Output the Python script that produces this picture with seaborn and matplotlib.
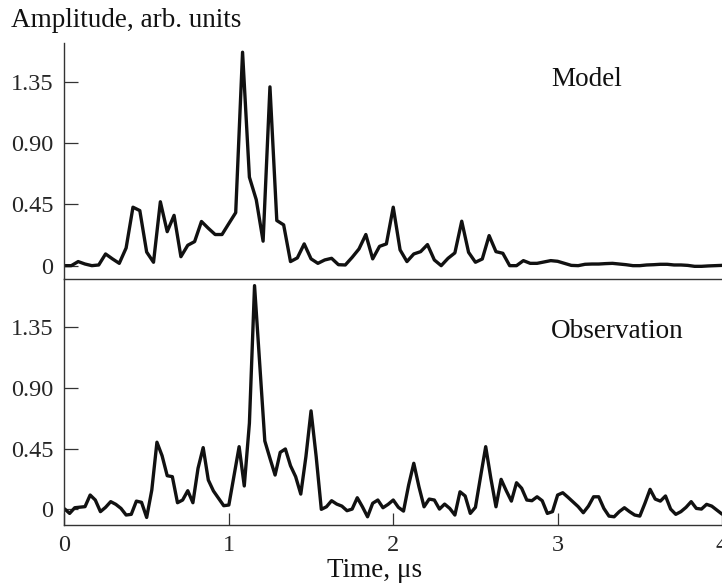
"""Model vs. observed signal amplitude, two stacked panels sharing the time axis."""

import matplotlib.pyplot as plt
import numpy as np
import pandas as pd
import seaborn as sns

# amplitudes (arb. units), sampled uniformly over 0..4 us
MODEL = [
    0, 0, 0.03, 0.012, 0, 0.005, 0.086, 0.05, 0.017, 0.13,
    0.43, 0.405, 0.10, 0.025, 0.47, 0.25, 0.37, 0.066, 0.15, 0.177,
    0.325, 0.275, 0.229, 0.229, 0.31, 0.39, 1.57, 0.651, 0.485, 0.18,
    1.315, 0.332, 0.30, 0.03, 0.057, 0.16, 0.05, 0.017, 0.042, 0.054,
    0.007, 0.005, 0.061, 0.123, 0.229, 0.05, 0.142, 0.16, 0.43, 0.116,
    0.03, 0.086, 0.103, 0.155, 0.042, 0.0, 0.054, 0.094, 0.327, 0.098,
    0.025, 0.049, 0.221, 0.103, 0.091, 0.0, 0.0, 0.037, 0.017, 0.017,
    0.027, 0.037, 0.032, 0.017, 0.002, 0.0, 0.01, 0.012, 0.012, 0.015,
    0.017, 0.012, 0.007, 0.0, 0.0, 0.005, 0.007, 0.01, 0.01, 0.005,
    0.005, 0.002, -0.005, -0.005, -0.002, 0.0, 0.002,
]
OBSERVATION = [
    0.004, -0.03, 0.012, 0.016, 0.02, 0.106, 0.069, -0.017, 0.015, 0.057,
    0.037, 0.007, -0.042, -0.037, 0.061, 0.052, -0.06, 0.143, 0.497, 0.397,
    0.249, 0.242, 0.049, 0.069, 0.138, 0.049, 0.304, 0.457, 0.217, 0.136,
    0.082, 0.027, 0.032, 0.25, 0.464, 0.173, 0.638, 1.656, 1.082, 0.506,
    0.378, 0.254, 0.422, 0.447, 0.323, 0.242, 0.113, 0.39, 0.729, 0.39,
    0.0, 0.019, 0.064, 0.039, 0.024, -0.01, 0.002, 0.086, 0.019, -0.055,
    0.045, 0.069, 0.012, 0.037, 0.069, 0.015, -0.013, 0.18, 0.341, 0.168,
    0.019, 0.076, 0.069, 0.002, 0.039, 0.007, -0.042, 0.13, 0.099, -0.03,
    0.015, 0.242, 0.464, 0.23, 0.019, 0.222, 0.138, 0.061, 0.197, 0.156,
    0.069, 0.064, 0.093, 0.064, -0.03, -0.017, 0.106, 0.123, 0.09, 0.055,
    0.02, -0.025, 0.024, 0.093, 0.093, 0.007, -0.05, -0.055, -0.017, 0.012,
    -0.017, -0.042, -0.05, 0.045, 0.148, 0.076, 0.061, 0.099, 0.002, -0.037,
    -0.017, 0.015, 0.057, 0.007, 0.002, 0.037, 0.024, -0.005, -0.035,
]
T_END = 4.0
Y_TICKS = [0, 0.45, 0.90, 1.35]
Y_TICK_LABELS = ["0", "0.45", "0.90", "1.35"]
X_TICKS = [0, 1, 2, 3, 4]

sns.set_theme(style="ticks")
plt.rcParams["font.family"] = ["Liberation Serif", "DejaVu Serif"]
plt.rcParams.update({"axes.edgecolor": "#333333", "axes.linewidth": 1.0})

INK = "#111111"
SPINE = "#333333"


def frame(name, amp):
    return pd.DataFrame({"t": np.linspace(0, T_END, len(amp)), "amp": amp, "series": name})


fig = plt.figure(figsize=(7.22, 5.84), dpi=100)
ax_top = fig.add_axes([0.0893, 0.5223, 0.9107, 0.4041])
ax_bot = fig.add_axes([0.0893, 0.1010, 0.9107, 0.4212])

for ax, amp, name, ylim, label_y in [
    (ax_top, MODEL, "Model", (-0.098, 1.638), 0.818),
    (ax_bot, OBSERVATION, "Observation", (-0.116, 1.705), 0.76),
]:
    sns.lineplot(data=frame(name, amp), x="t", y="amp", ax=ax, color=INK,
                 linewidth=2.4, estimator=None, sort=False, legend=False)
    ax.set_xlim(0, T_END)
    ax.set_ylim(*ylim)
    ax.set_yticks(Y_TICKS)
    ax.set_yticklabels(Y_TICK_LABELS)
    ax.set_xlabel("")
    ax.set_ylabel("")
    ax.tick_params(axis="y", direction="in", length=10, width=0.9, color=SPINE,
                   labelsize=17.5, pad=8)
    ax.spines["right"].set_visible(False)
    ax.text(0.74, label_y, name, transform=ax.transAxes,
            fontsize=19.5, ha="left", va="baseline", color=INK)

# top panel: only the left spine plus the shared dividing line
ax_top.spines["top"].set_visible(False)
ax_top.spines["bottom"].set_visible(False)
ax_top.tick_params(axis="x", bottom=False, labelbottom=False)

ax_bot.set_xticks(X_TICKS)
ax_bot.tick_params(axis="x", direction="in", length=9, width=0.9, color=SPINE,
                   labelsize=17.5, pad=7)

fig.text(11 / 722, 1 - 27 / 584, "Amplitude, arb. units", fontsize=19.5,
         ha="left", va="baseline", color=INK)
fig.text(375 / 722, 1 - 577 / 584, "Time, μs", fontsize=19.5,
         ha="center", va="baseline", color=INK)

fig.savefig("out.png", dpi=100)
